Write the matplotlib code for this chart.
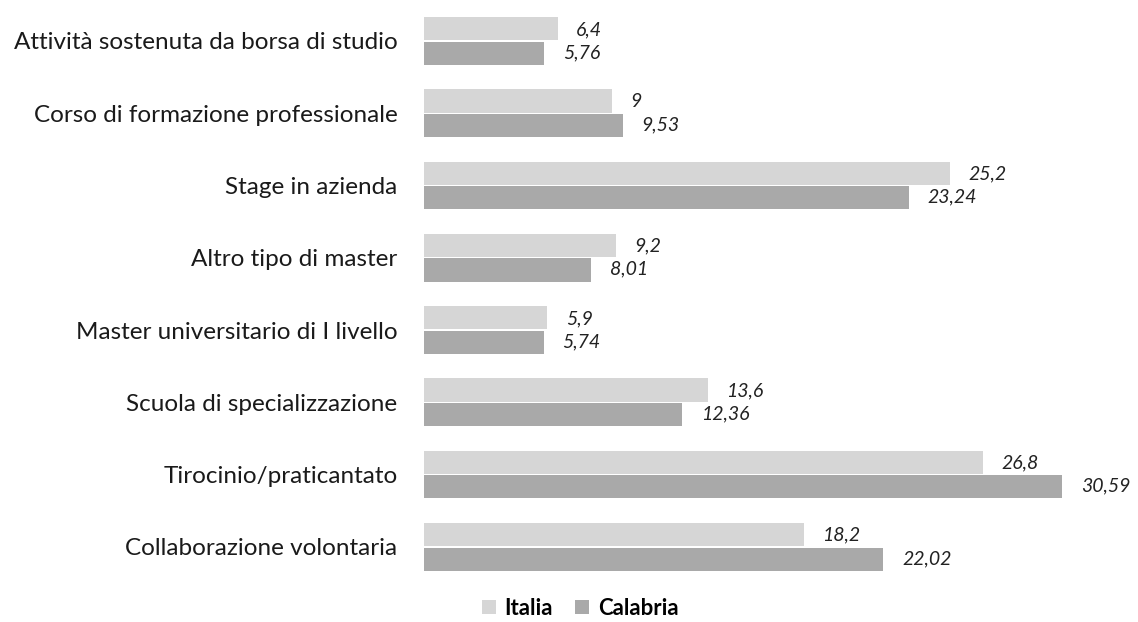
import numpy as np
import matplotlib
matplotlib.use("Agg")
import matplotlib.pyplot as plt

categories = [
    "Attività sostenuta da borsa di studio",
    "Corso di formazione professionale",
    "Stage in azienda",
    "Altro tipo di master",
    "Master universitario di I livello",
    "Scuola di specializzazione",
    "Tirocinio/praticantato",
    "Collaborazione volontaria",
]
italia = [6.4, 9.0, 25.2, 9.2, 5.9, 13.6, 26.8, 18.2]
calabria = [5.76, 9.53, 23.24, 8.01, 5.74, 12.36, 30.59, 22.02]
italia_lbl = ["6,4", "9", "25,2", "9,2", "5,9", "13,6", "26,8", "18,2"]
calabria_lbl = ["5,76", "9,53", "23,24", "8,01", "5,74", "12,36", "30,59", "22,02"]

plt.rcParams['font.family'] = ['Lato', 'DejaVu Sans']

fig = plt.figure(figsize=(11.38, 6.22), dpi=100)
ax = fig.add_axes([424 / 1138, 0, 1 - 424 / 1138, 1])

y = np.arange(len(categories))
h = 0.32
c_it = "#d6d6d6"
c_ca = "#a9a9a9"
b1 = ax.barh(y - h / 2 - 0.01, italia, height=h, color=c_it, label="Italia")
b2 = ax.barh(y + h / 2 + 0.01, calabria, height=h, color=c_ca, label="Calabria")

off = 0.9
for yi, v, t in zip(y, italia, italia_lbl):
    ax.text(v + off, yi - h / 2, t, va="center", ha="left", style="italic",
            fontsize=14, color="#222222")
for yi, v, t in zip(y, calabria, calabria_lbl):
    ax.text(v + off, yi + h / 2, t, va="center", ha="left", style="italic",
            fontsize=14, color="#222222")

ax.set_xlim(0, 714 / 20.86)
ax.set_ylim(8.04, -0.567)
ax.set_yticks(y)
ax.set_yticklabels(categories, fontsize=17.5, color="#1a1a1a")
ax.tick_params(axis="y", length=0, pad=19)
ax.set_xticks([])
for s in ax.spines.values():
    s.set_visible(False)

fig.legend(handles=[b1, b2], loc="center", bbox_to_anchor=(0.51, 0.022),
           ncol=2, frameon=False, handlelength=0.6,
           handleheight=0.6, handletextpad=0.4, columnspacing=1.0,
           prop={'weight': 'bold', 'size': 16})

fig.savefig("out.png", dpi=100)
